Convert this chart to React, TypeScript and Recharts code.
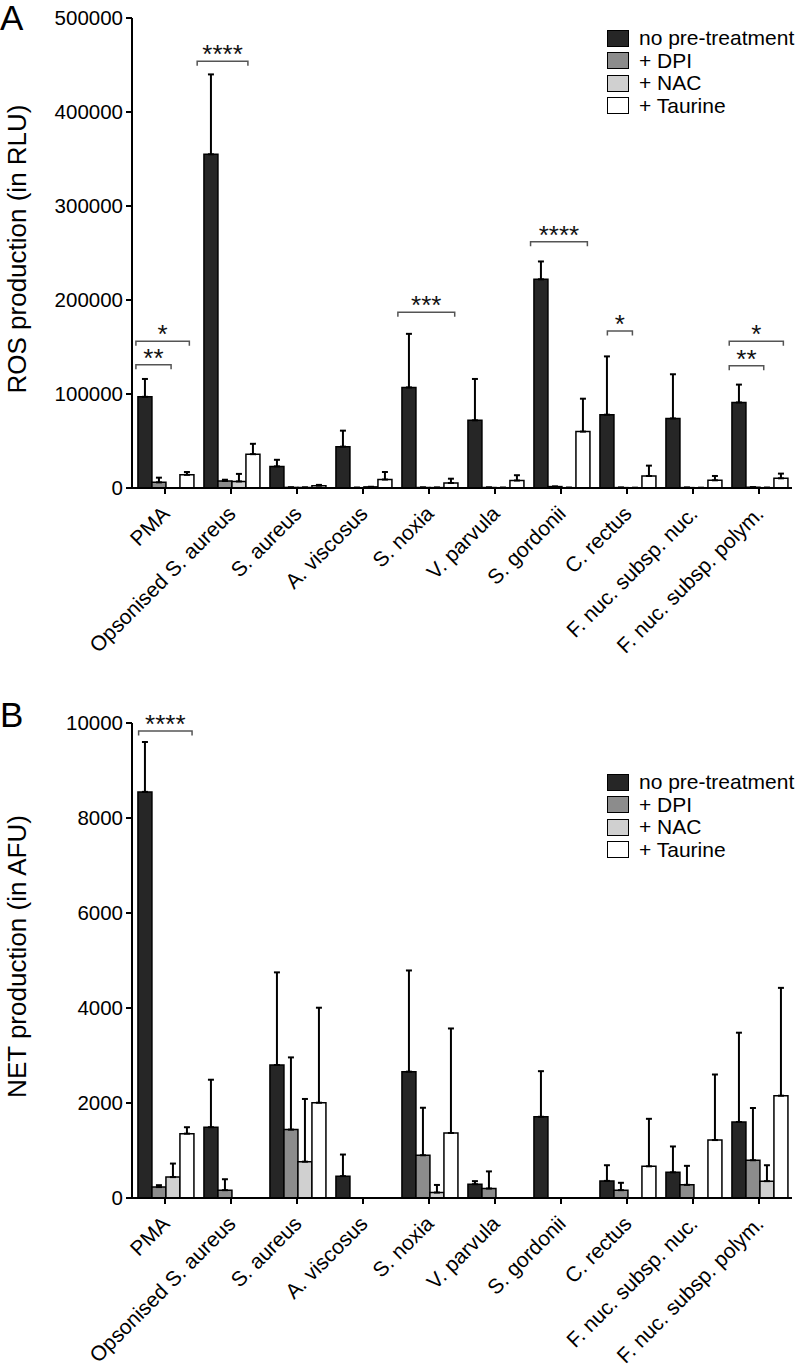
import React from "react";
import {
  BarChart,
  Bar,
  XAxis,
  YAxis,
  ErrorBar,
  Legend,
  Label,
  ReferenceLine,
} from "recharts";

const categories = [
  "PMA",
  "Opsonised S. aureus",
  "S. aureus",
  "A. viscosus",
  "S. noxia",
  "V. parvula",
  "S. gordonii",
  "C. rectus",
  "F. nuc. subsp. nuc.",
  "F. nuc. subsp. polym.",
];

const series = [
  { key: "none", name: "no pre-treatment", fill: "#262626" },
  { key: "dpi", name: "+ DPI", fill: "#8c8c8c" },
  { key: "nac", name: "+ NAC", fill: "#d0d0d0" },
  { key: "tau", name: "+ Taurine", fill: "#ffffff" },
];

// panel A: ROS (RLU), mean and SD
const rosNone = [97000, 355000, 23000, 44000, 107000, 72000, 222000, 78000, 74000, 91000];
const rosNoneSd = [19000, 85000, 7000, 17000, 57000, 44000, 19000, 62000, 47000, 19000];
const rosDpi = [6000, 7500, 600, 300, 500, 500, 1500, 400, 400, 800];
const rosDpiSd = [5000, 1300, 0, 0, 0, 0, 0, 0, 0, 0];
const rosNac = [0, 7000, 500, 1200, 400, 300, 300, 200, 200, 300];
const rosNacSd = [0, 8000, 0, 0, 0, 0, 0, 0, 0, 0];
const rosTau = [14000, 36000, 2500, 9000, 5300, 8000, 60000, 12800, 8200, 10300];
const rosTauSd = [3000, 11000, 800, 8000, 4600, 5600, 35000, 11000, 4600, 5000];
const rosTicks = [0, 100000, 200000, 300000, 400000, 500000];

// panel B: NET (AFU), mean and SD
const netNone = [8550, 1490, 2800, 460, 2660, 290, 1710, 360, 540, 1600];
const netNoneSd = [1050, 1000, 1950, 455, 2130, 65, 960, 330, 545, 1880];
const netDpi = [230, 165, 1440, 0, 900, 200, 0, 165, 277, 795];
const netDpiSd = [40, 230, 1520, 0, 1000, 360, 0, 155, 400, 1100];
const netNac = [440, 0, 765, 0, 115, 0, 0, 0, 0, 355];
const netNacSd = [285, 0, 1320, 0, 160, 0, 0, 0, 0, 335];
const netTau = [1355, 0, 2006, 0, 1369, 0, 0, 667, 1220, 2154];
const netTauSd = [135, 0, 2000, 0, 2200, 0, 0, 1000, 1380, 2270];
const netTicks = [0, 2000, 4000, 6000, 8000, 10000];

// significance brackets: category, start/end in bar slots, height in data units
const rosBrackets = [
  { cat: "PMA", from: -0.15, to: 2.45, y: 131000, stars: "**" },
  { cat: "PMA", from: -0.15, to: 3.8, y: 156000, stars: "*" },
  { cat: "Opsonised S. aureus", from: -0.5, to: 3.25, y: 454000, stars: "****" },
  { cat: "S. noxia", from: -0.3, to: 3.9, y: 187000, stars: "***" },
  { cat: "S. gordonii", from: -0.25, to: 3.95, y: 262000, stars: "****" },
  { cat: "C. rectus", from: 0.55, to: 2.4, y: 167000, stars: "*" },
  { cat: "F. nuc. subsp. polym.", from: -0.2, to: 2.35, y: 130000, stars: "**" },
  { cat: "F. nuc. subsp. polym.", from: -0.2, to: 3.8, y: 156000, stars: "*" },
];
const netBrackets = [{ cat: "PMA", from: 0.05, to: 4.0, y: 9830, stars: "****" }];

const CHART_W = 800;
const Y_W = 132;
const RIGHT = 8;
const BAND = (CHART_W - Y_W - RIGHT) / categories.length;
const GAP = 0.09;
const SLOT = (1 - 2 * GAP) / series.length;
// offset from band centre, in px
const slotOffset = (s: number) => (GAP + s * SLOT - 0.5) * BAND;

const FONT = "'Liberation Sans', Arial, Helvetica, sans-serif";

function buildRows(vals: number[][], sds: number[][]) {
  return categories.map((name, i) => {
    const row: any = { name };
    series.forEach((s, k) => {
      row[s.key] = vals[k][i];
      row[s.key + "Err"] = [0, sds[k][i]];
    });
    return row;
  });
}

const rosData = buildRows([rosNone, rosDpi, rosNac, rosTau], [rosNoneSd, rosDpiSd, rosNacSd, rosTauSd]);
const netData = buildRows([netNone, netDpi, netNac, netTau], [netNoneSd, netDpiSd, netNacSd, netTauSd]);

const CatTick = (props: any) => {
  const { x, y, payload } = props;
  const ax = x + 6;
  const ay = y + 19;
  return (
    <text
      x={ax}
      y={ay}
      transform={`rotate(-45 ${ax} ${ay})`}
      textAnchor="end"
      fontSize={21}
      fill="#000"
    >
      {payload.value}
    </text>
  );
};

const axisTitle = (value: string) => (props: any) => {
  const vb = props.viewBox;
  const cy = vb.y + vb.height / 2 - 4;
  return (
    <text
      x={26}
      y={cy}
      transform={`rotate(-90 26 ${cy})`}
      textAnchor="middle"
      fontSize={26}
      fill="#000"
    >
      {value}
    </text>
  );
};

const bracketShape = (b: { from: number; to: number; stars: string }) => (p: any) => {
  const xa = p.x1 + slotOffset(b.from);
  const xb = p.x2 + slotOffset(b.to);
  const y = p.y1;
  return (
    <g>
      <path
        d={`M${xa},${y + 4.5}V${y}H${xb}V${y + 4.5}`}
        fill="none"
        stroke="#555"
        strokeWidth={1.5}
      />
      <text x={(xa + xb) / 2} y={y + 2} textAnchor="middle" fontSize={26} fill="#111">
        {b.stars}
      </text>
    </g>
  );
};

const LegendBox = () => (
  <div style={{ fontFamily: FONT }}>
    {series.map((s) => (
      <div key={s.key} style={{ display: "flex", alignItems: "center", height: 22.5 }}>
        <div
          style={{
            width: 20,
            height: 15,
            background: s.fill,
            border: "1.5px solid #000",
            marginRight: 10,
          }}
        />
        <span style={{ fontSize: 21, lineHeight: "22px", color: "#000" }}>{s.name}</span>
      </div>
    ))}
  </div>
);

type PanelProps = {
  letter: string;
  letterTop: number;
  data: any[];
  height: number;
  top: number;
  xHeight: number;
  max: number;
  ticks: number[];
  title: string;
  legendTop: number;
  brackets: { cat: string; from: number; to: number; y: number; stars: string }[];
};

function Panel(p: PanelProps) {
  const axisStyle = { stroke: "#000", strokeWidth: 2 };
  return (
    <div style={{ position: "relative", width: CHART_W, height: p.height }}>
      <div
        style={{
          position: "absolute",
          left: 0,
          top: p.letterTop,
          fontSize: 35,
          lineHeight: "35px",
          color: "#000",
        }}
      >
        {p.letter}
      </div>
      <BarChart
        width={CHART_W}
        height={p.height}
        data={p.data}
        margin={{ top: p.top, right: RIGHT, left: 0, bottom: 0 }}
        barCategoryGap={`${GAP * 100}%`}
        barGap={0}
      >
        <XAxis
          dataKey="name"
          interval={0}
          height={p.xHeight}
          tick={<CatTick />}
          tickSize={6}
          tickMargin={2}
          axisLine={axisStyle}
          tickLine={axisStyle}
        />
        <YAxis
          width={Y_W}
          domain={[0, p.max]}
          ticks={p.ticks}
          interval={0}
          tick={{ fill: "#000", fontSize: 20.5 }}
          tickSize={6}
          tickMargin={3}
          axisLine={axisStyle}
          tickLine={axisStyle}
          allowDataOverflow
        >
          <Label content={axisTitle(p.title)} />
        </YAxis>
        <Legend
          layout="vertical"
          align="center"
          verticalAlign="middle"
          wrapperStyle={{ top: p.legendTop, left: 607, width: 190 }}
          content={<LegendBox />}
        />
        {series.map((s) => (
          <Bar
            key={s.key}
            dataKey={s.key}
            name={s.name}
            fill={s.fill}
            stroke="#000"
            strokeWidth={1.5}
            isAnimationActive={false}
          >
            <ErrorBar
              dataKey={s.key + "Err"}
              direction="y"
              width={3}
              stroke="#000"
              strokeWidth={2}
            />
          </Bar>
        ))}
        {p.brackets.map((b, i) => (
          <ReferenceLine
            key={i}
            ifOverflow="visible"
            segment={[
              { x: b.cat, y: b.y },
              { x: b.cat, y: b.y },
            ]}
            shape={bracketShape(b)}
          />
        ))}
      </BarChart>
    </div>
  );
}

export default function App() {
  return (
    <div
      style={{
        position: "absolute",
        left: 0,
        top: 0,
        width: CHART_W,
        background: "#fff",
        fontFamily: FONT,
      }}
    >
      <Panel
        letter="A"
        letterTop={0}
        data={rosData}
        height={680}
        top={18}
        xHeight={192}
        max={500000}
        ticks={rosTicks}
        title="ROS production (in RLU)"
        legendTop={27}
        brackets={rosBrackets}
      />
      <Panel
        letter="B"
        letterTop={17}
        data={netData}
        height={687}
        top={43}
        xHeight={169}
        max={10000}
        ticks={netTicks}
        title="NET production (in AFU)"
        legendTop={91}
        brackets={netBrackets}
      />
    </div>
  );
}
